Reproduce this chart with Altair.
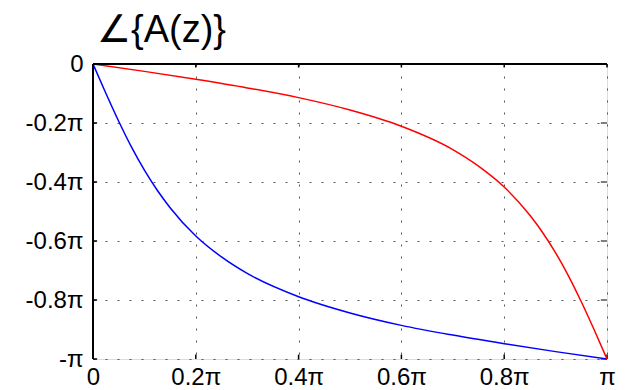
import altair as alt
import pandas as pd

# frequency (in units of pi) and phase (in units of pi)
blue_x = [0, 0.025, 0.05, 0.075, 0.1, 0.125, 0.15, 0.2, 0.25, 0.3, 0.4, 0.5, 0.6, 0.7, 0.8, 0.9, 1.0]
blue_y = [0, -0.099, -0.194, -0.282, -0.36, -0.428, -0.487, -0.583, -0.654, -0.71, -0.789, -0.844, -0.886, -0.919, -0.948, -0.975, -1.0]
red_x = [0, 0.1, 0.2, 0.3, 0.4, 0.5, 0.6, 0.7, 0.75, 0.8, 0.85, 0.875, 0.9, 0.925, 0.95, 0.975, 1.0]
red_y = [0, -0.025, -0.052, -0.081, -0.114, -0.156, -0.211, -0.29, -0.346, -0.417, -0.513, -0.572, -0.64, -0.718, -0.806, -0.901, -1.0]

x_ticks = [0, 0.2, 0.4, 0.6, 0.8, 1.0]
y_ticks = [0, -0.2, -0.4, -0.6, -0.8, -1.0]

series_names = ["a1", "a2"]
series_colors = ["#0000ff", "#ff0000"]
title_text = ["∠{A(z)}"]

df = pd.concat([
    pd.DataFrame({"w": blue_x, "phase": blue_y, "s": series_names[0]}),
    pd.DataFrame({"w": red_x, "phase": red_y, "s": series_names[1]}),
])

FONT = "Liberation Sans"

xscale = alt.Scale(domain=[0, 1], nice=False, zero=False)
yscale = alt.Scale(domain=[-1, 0], nice=False, zero=False)

x_axis = alt.Axis(
    values=x_ticks, grid=True, gridColor="#555", gridDash=[2, 10], gridWidth=1,
    domain=False, ticks=False, labelFont=FONT, labelFontSize=24, labelColor="black",
    labelPadding=6, title=None, labelFlush=False,
    labelExpr="datum.value == 0 ? '0' : (datum.value == 1 ? 'π' : format(datum.value, '.1f') + 'π')",
)
y_axis = alt.Axis(
    values=y_ticks, grid=True, gridColor="#555", gridDash=[2, 10], gridWidth=1,
    domain=False, ticks=False, labelFont=FONT, labelFontSize=24, labelColor="black",
    labelPadding=10, title=None, labelFlush=False,
    labelExpr="datum.value == 0 ? '0' : (datum.value == -1 ? '-π' : '-' + format(-datum.value, '.1f') + 'π')",
)

lines = alt.Chart(df).mark_line(strokeWidth=1.5, interpolate="monotone").encode(
    x=alt.X("w:Q", scale=xscale, axis=x_axis),
    y=alt.Y("phase:Q", scale=yscale, axis=y_axis),
    color=alt.Color("s:N", scale=alt.Scale(domain=series_names, range=series_colors), legend=None),
)

# frame: top and left solid lines
top_line = alt.Chart(pd.DataFrame({"v": [0]})).mark_rule(color="black", strokeWidth=2).encode(
    y=alt.Y("v:Q", scale=yscale)
)
left_line = alt.Chart(pd.DataFrame({"v": [0]})).mark_rule(color="black", strokeWidth=2).encode(
    x=alt.X("v:Q", scale=xscale)
)

# inward ticks
xt = pd.DataFrame({"t": x_ticks})
yt = pd.DataFrame({"t": y_ticks})
bottom_ticks = alt.Chart(xt).mark_rule(color="black", strokeWidth=1.5).encode(
    x=alt.X("t:Q", scale=xscale), y=alt.datum(-1.0), y2=alt.datum(-0.985)
)
top_ticks = alt.Chart(xt).mark_rule(color="black", strokeWidth=1.5).encode(
    x=alt.X("t:Q", scale=xscale), y=alt.datum(0.0), y2=alt.datum(-0.012)
)
left_ticks = alt.Chart(yt).mark_rule(color="black", strokeWidth=1.5).encode(
    y=alt.Y("t:Q", scale=yscale), x=alt.datum(0.0), x2=alt.datum(0.008)
)
right_ticks = alt.Chart(yt).mark_rule(color="#555", strokeWidth=1.5).encode(
    y=alt.Y("t:Q", scale=yscale), x=alt.datum(1.0), x2=alt.datum(0.988)
)

# title drawn as text above the plot area
title = alt.Chart(pd.DataFrame({"label": title_text})).mark_text(
    font=FONT, fontSize=38, color="black", align="left", baseline="alphabetic"
).encode(text="label:N", x=alt.value(4), y=alt.value(-22))

chart = alt.layer(
    bottom_ticks, top_ticks, left_ticks, right_ticks, lines, top_line, left_line, title
).properties(
    width=514,
    height=295,
    autosize=alt.AutoSizeParams(type="none"),
    padding={"left": 85, "top": 56, "right": 14, "bottom": 30},
).configure_view(stroke=None).configure(background="white")

chart.save("out.html", embed_options={"renderer": "svg", "actions": False})
